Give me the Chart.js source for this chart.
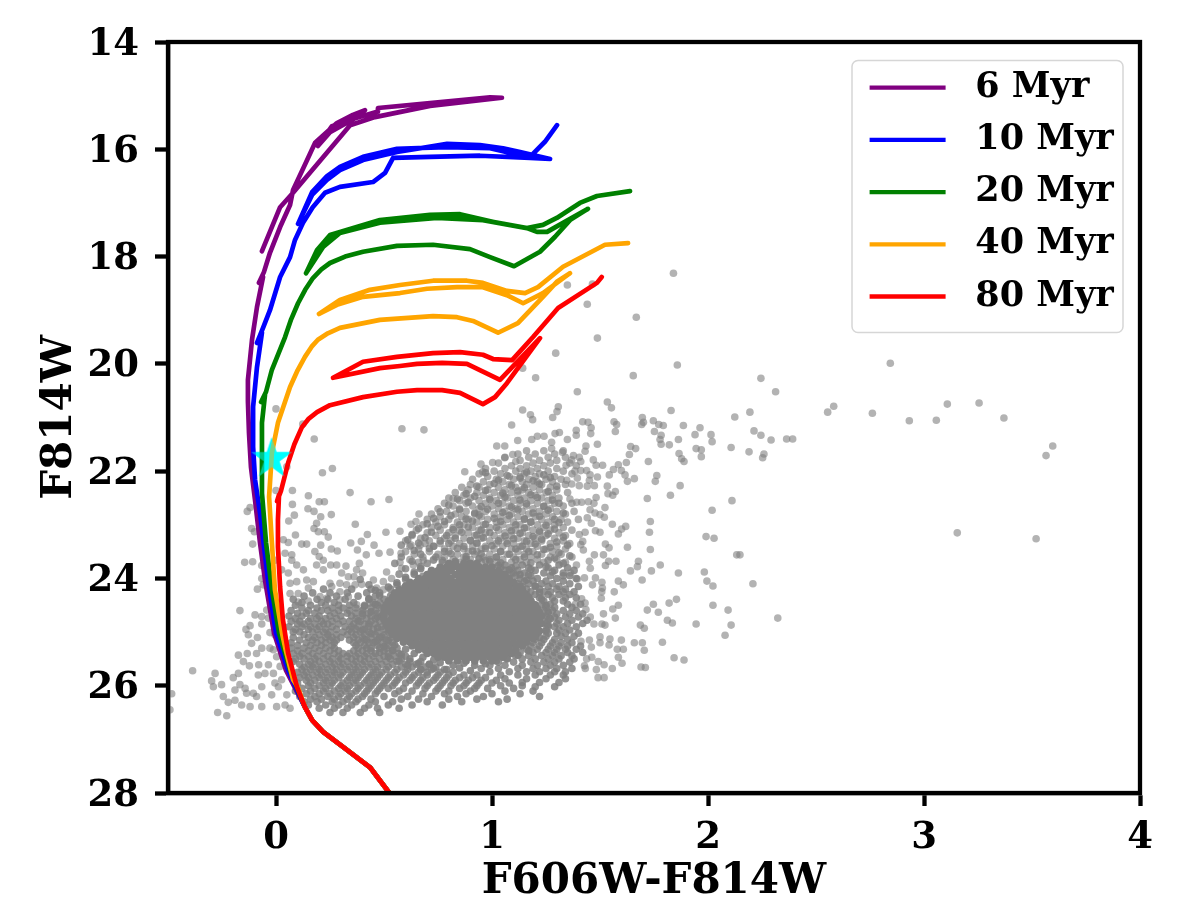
<!DOCTYPE html>
<html><head><meta charset="utf-8">
<style>html,body{margin:0;padding:0;background:#fff}canvas{display:block}</style>
<script src="https://cdn.jsdelivr.net/npm/chart.js@4/dist/chart.umd.min.js"></script>
</head><body><canvas id="c" width="1196" height="908"></canvas>
<script>
const xTicks=[0,1,2,3,4];
const yTicks=[14,16,18,20,22,24,26,28];
const ageLabels=['6 Myr','10 Myr','20 Myr','40 Myr','80 Myr'];
const ageColors=['purple','blue','green','orange','red'];
const sharedLower=[[.525,28],[.435,27.52],[.31,27.14],[.218,26.86],[.167,26.64],[.134,26.4]];
const iso6=[[.085,26.02],[.046,25.71],[-.009,25.02],[-.051,24.03],[-.074,23.34],[-.097,22.54],[-.116,21.92],[-.125,21.29],[-.13,20.7],[-.13,20.3],[-.111,19.55],[-.088,18.94],[-.06,18.38],[-.079,18.49],[-.056,18.29],[-.028,17.93],[.019,17.45],[.065,17.04],[.079,16.76],[.144,16.2],[.181,15.88],[.282,15.51],[.356,15.36],[.412,15.27],[.366,15.42],[.25,15.68],[.194,15.94],[.259,15.57],[.366,15.42],[.468,15.3],[.472,15.23],[.713,15.14],[.991,15.03],[1.046,15.04],[.713,15.19],[.458,15.4],[.343,15.55],[.079,16.81],[.019,17.08],[-.065,17.9]];
const iso10=[[.09,26.02],[.056,25.71],[0,25.02],[-.037,24.03],[-.074,22.78],[-.097,22.16],[-.106,21.55],[-.106,20.8],[-.088,20.06],[-.065,19.42],[-.088,19.61],[-.06,19.33],[-.028,19],[.019,18.38],[.065,18.01],[.088,17.69],[.125,17.37],[.17,17.08],[.227,16.81],[.296,16.7],[.449,16.61],[.505,16.44],[.542,16.16],[.713,16.14],[.944,16.12],[1.176,16.16],[1.269,16.18],[1.13,16.05],[1.051,15.98],[.944,15.92],[.792,15.9],[.56,16.05],[.403,16.2],[.296,16.39],[.236,16.57],[.167,16.85],[.102,17.39],[.167,16.8],[.236,16.5],[.296,16.33],[.403,16.14],[.56,15.99],[.792,15.96],[.991,15.98],[1.13,16.11],[1.176,16.14],[1.245,15.86],[1.301,15.55]];
const iso20=[[.095,26.02],[.065,25.71],[.014,25.02],[-.019,24.21],[-.046,23.34],[-.065,22.41],[-.065,21.1],[-.051,20.58],[-.069,20.71],[-.046,20.52],[-.019,20.11],[.042,19.5],[.07,19.17],[.102,18.87],[.135,18.62],[.171,18.4],[.21,18.24],[.25,18.12],[.32,18],[.403,17.91],[.56,17.8],[.727,17.78],[.898,17.86],[.991,18.01],[1.102,18.18],[1.222,17.91],[1.292,17.63],[1.361,17.32],[1.444,17.11],[1.255,17.54],[1.208,17.54],[1.162,17.47],[.958,17.32],[.745,17.28],[.481,17.37],[.296,17.56],[.218,17.82],[.139,18.31],[.19,17.88],[.25,17.6],[.481,17.32],[.713,17.22],[.852,17.21],[1.023,17.37],[1.162,17.47],[1.236,17.41],[1.3,17.28],[1.407,17],[1.486,16.87],[1.639,16.78]];
const iso40=[[.1,26.02],[.079,25.89],[.042,25.28],[.028,25.02],[-.005,24.21],[-.019,23.34],[-.032,22.48],[-.019,21.66],[.009,21.1],[.065,20.43],[.1,20.12],[.134,19.87],[.165,19.68],[.194,19.55],[.24,19.43],[.296,19.33],[.481,19.18],[.727,19.11],[.838,19.13],[.912,19.2],[1.028,19.42],[1.12,19.24],[1.236,18.75],[1.3,18.47],[1.361,18.31],[1.236,18.68],[1.144,18.87],[1.069,18.72],[.958,18.57],[.838,18.57],[.699,18.6],[.574,18.68],[.403,18.75],[.282,18.9],[.199,19.07],[.296,18.81],[.435,18.62],[.574,18.53],[.727,18.45],[.884,18.45],[.958,18.49],[1.069,18.64],[1.153,18.68],[1.213,18.57],[1.329,18.19],[1.523,17.78],[1.63,17.75]];
const iso80=[[.097,26.02],[.056,25.39],[.032,24.77],[.019,24.16],[.009,23.41],[.009,22.91],[.014,22.44],[.005,22.56],[.023,22.37],[.056,21.85],[.085,21.5],[.12,21.18],[.152,21.02],[.19,20.9],[.25,20.77],[.403,20.62],[.56,20.52],[.653,20.49],[.769,20.49],[.852,20.54],[.958,20.75],[1.014,20.62],[1.069,20.36],[1.222,19.52],[1.037,20.3],[.884,20],[.769,19.98],[.653,20],[.574,20.04],[.481,20.08],[.264,20.26],[.403,19.96],[.56,19.87],[.727,19.8],[.852,19.78],[.958,19.83],[1.005,19.91],[1.093,19.93],[1.19,19.5],[1.306,18.96],[1.486,18.49],[1.508,18.38]];
const clusterStar=[[-.02,21.77]];
const farStars=[[2.844,19.99],[2.245,20.27],[2.313,20.52],[2.194,20.9],[2.554,20.9],[2.582,20.79],[2.761,20.92],[2.932,21.06],[3.057,21.05],[3.108,20.75],[3.255,20.73],[3.37,21.01],[3.596,21.53],[3.565,21.71],[3.154,23.15],[3.519,23.26],[2.213,21.25],[2.245,21.33],[2.292,21.42],[2.364,21.4],[2.392,21.4],[2.19,21.64],[2.259,21.68],[2.253,21.75],[2.208,24.1],[2.323,24.74],[2.148,23.56],[2.124,20.99],[2.107,21.56],[2.111,22.55],[2.133,23.56],[2.093,24.59],[2.107,24.87],[2.079,25.06]];
const rightStars=[[1.84,18.31],[1.349,18.53],[1.465,18.51],[1.441,18.89],[1.668,19.13],[1.488,19.52],[1.295,19.8],[1.142,20.08],[1.202,20.26],[1.858,20.02],[1.654,20.22],[1.395,20.52],[1.534,20.71],[1.553,20.82],[1.307,20.8],[1.301,20.89],[1.281,21],[1.142,20.86],[1.178,20.95],[1.188,21.04],[1.091,21.14],[1.829,20.87],[1.565,21.08],[1.577,21.13],[1.571,21.26],[1.696,21],[1.701,21.09],[1.693,21.13],[1.747,21.06],[1.772,21.13],[1.793,21.15],[1.886,21.15],[1.963,21.19],[1.94,21.32],[2.014,21.32],[2.019,21.45],[1.752,21.26],[1.783,21.33],[1.778,21.41],[1.783,21.5],[1.821,21.51],[1.863,21.41],[1.42,21.08],[1.445,21.09],[1.459,21.19],[1.39,21.24],[1.457,21.3],[1.39,21.33],[1.349,21.41],[1.312,21.28],[1.292,21.3],[1.21,21.35],[1.241,21.35],[1.184,21.41],[1.119,21.43],[1.276,21.46],[1.276,21.58],[1.022,21.53],[1.059,21.53],[1.096,21.69],[1.059,21.75],[1.11,21.82],[1.326,21.65],[1.488,21.5],[1.435,21.53],[1.431,21.63],[1.642,21.54],[1.665,21.58],[1.636,21.69],[1.622,21.84],[1.945,21.58],[1.969,21.6],[1.969,21.73],[1.866,21.67],[1.878,21.77],[1.889,21.82],[1.724,21.82],[1.763,22.08],[1.756,22.19],[1.871,22.27],[1.826,22.45],[1.719,22.51],[2.019,22.73],[1.377,21.71],[1.404,21.74],[1.411,21.82],[1.469,21.79],[1.482,21.89],[1.512,21.89],[1.343,21.89],[1.369,21.79],[1.585,21.88],[1.562,21.97],[1.543,22.07],[1.599,21.99],[1.616,22.07],[1.627,22.19],[1.659,22.14],[1.384,22],[1.411,21.99],[1.438,21.99],[1.454,22.07],[1.488,22.11],[1.395,22.13],[1.346,22.17],[1.369,22.24],[1.404,22.27],[1.441,22.28],[1.474,22.27],[1.451,22.17],[1.534,22.28],[1.571,22.38],[1.537,22.42],[1.559,22.45],[1.482,22.49],[1.472,22.6],[1.446,22.57],[1.415,22.58],[1.392,22.58],[1.361,22.52],[1.523,22.68],[1.454,22.72],[1.477,22.78],[1.5,22.81],[1.52,22.86],[1.441,22.87],[1.46,22.97],[1.557,22.99],[1.619,23.03],[1.6,23.08],[1.585,23.17],[1.479,23.11],[1.5,23.14],[1.431,23.14],[1.404,23.18],[1.42,23.31],[1.411,23.37],[1.423,23.47],[1.525,23.36],[1.542,23.43],[1.627,23.42],[1.733,22.94],[1.729,23.14],[1.733,23.46],[1.991,23.22],[2.028,23.25],[1.474,23.56],[1.516,23.56],[1.54,23.68],[1.574,23.68],[1.451,23.68],[1.391,23.75],[1.455,23.81],[1.525,23.76],[1.678,23.68],[1.673,23.78],[1.779,23.75],[1.641,23.86],[1.738,23.86],[1.863,23.9],[1.983,23.88],[1.364,23.9],[1.395,24.01],[1.428,23.99],[1.479,23.99],[1.695,24.03],[1.585,24.05],[1.608,24.12],[1.995,24.05],[2.023,24.14],[1.465,24.12],[1.509,24.07],[1.511,24.18],[1.508,24.25],[1.566,24.25],[1.506,24.37],[1.415,24.38],[1.431,24.46],[1.386,24.48],[1.435,24.58],[1.559,24.57],[1.585,24.5],[1.516,24.66],[1.571,24.74],[1.747,24.48],[1.719,24.59],[1.77,24.63],[1.82,24.46],[1.854,24.39],[2.023,24.5],[1.812,24.78],[1.835,24.83],[1.945,24.85],[1.455,24.72],[1.472,24.85],[1.509,24.85],[1.523,24.87],[1.687,24.87],[1.705,24.93],[1.789,25.19],[1.659,25.2],[1.696,25.2],[1.705,25.34],[1.843,25.48],[1.889,25.52],[1.69,25.65],[1.71,25.66],[1.599,25.15],[1.546,25.13],[1.5,25.09],[1.451,25.15],[1.412,25.17],[1.46,25.28],[1.5,25.2],[1.542,25.24],[1.58,25.32],[1.608,25.32],[1.585,25.47],[1.602,25.58],[1.557,25.68],[1.519,25.61],[1.492,25.55],[1.462,25.47],[1.438,25.5],[1.428,25.63],[1.483,25.7],[1.519,25.85],[1.491,25.85],[1.432,25.68]];
const leftStars=[[0,20.84],[.124,21.12],[.177,21.4],[.583,21.21],[.685,21.23],[.215,22.03],[.261,21.95],[.05,21.92],[.076,22.36],[0,22.36],[.15,22.46],[.2,22.57],[.224,22.57],[.076,22.62],[.343,22.4],[.44,22.57],[.523,22.53],[.82,22.51],[.874,22.01],[.949,21.87],[.957,22.01],[1.003,21.84],[-.133,22.75],[-.12,22.68],[.085,22.82],[.148,22.7],[.176,22.75],[.207,22.85],[.256,22.81],[.059,22.93],[-.113,23.07],[-.1,23.13],[-.108,23.36],[-.145,23.7],[-.108,23.69],[-.066,23.76],[.188,22.97],[.176,23.07],[.196,23.13],[.224,23.13],[.242,23.23],[.367,22.99],[.423,23.18],[.509,23.14],[.574,23.12],[.662,22.8],[.648,22.94],[.625,22.99],[.09,23.19],[.034,23.28],[.057,23.33],[.119,23.36],[.142,23.36],[.207,23.38],[.256,23.45],[.284,23.49],[.346,23.34],[.395,23.31],[.454,23.38],[.377,23.47],[.418,23.56],[.477,23.53],[.528,23.51],[.579,23.53],[.625,23.38],[.667,23.38],[.073,23.56],[.042,23.53],[.073,23.66],[.096,23.75],[.18,23.5],[.2,23.59],[.219,23.66],[.188,23.75],[.219,23.84],[.253,23.75],[.281,23.75],[.324,23.77],[.386,23.72],[.373,23.84],[.304,23.9],[.335,23.97],[.361,23.97],[.401,23.9],[.512,23.88],[.574,23.7],[.582,23.81],[.636,23.75],[.682,23.66],[.728,23.66],[-.005,23.66],[.026,23.84],[.057,23.9],[.127,23.84],[-.066,24],[-.086,24.2],[-.059,24.12],[-.035,24.06],[.065,24.09],[.096,24.06],[.142,24.03],[.173,24.06],[.15,24.18],[.25,24.09],[.258,24.15],[.296,24.09],[.327,24.12],[.366,24.12],[.397,24.11],[.451,24.03],[.497,24.06],[.535,24],[.466,24.18],[.497,24.21],[.296,24.25],[.204,24.34],[.235,24.37],[.103,24.28],[.065,24.28],[.15,24.42],[.103,24.44],[.296,24.4],[.335,24.34],[.374,24.49],[.404,24.59],[.435,24.46],[-.167,24.6],[-.097,24.68],[-.066,24.71],[-.043,24.59],[-.12,24.88],[-.139,24.95],[-.066,24.85],[-.128,25.05],[-.035,24.74],[-.028,25.01],[-.005,25.05],[-.113,25.21],[-.086,25.1],[-.066,25.3],[-.09,25.4],[-.133,25.4],[-.174,25.43],[-.151,25.55],[-.123,25.63],[-.08,25.61],[-.028,25.3],[-.012,25.33],[-.035,25.61],[.003,25.46],[.019,25.64],[-.051,25.77],[-.082,25.8],[-.012,25.77],[-.386,25.72],[-.282,25.77],[-.298,25.91],[-.29,26.02],[-.252,25.98],[-.198,25.85],[-.174,25.77],[-.167,25.98],[-.143,26.05],[-.19,26.08],[-.136,26.14],[-.105,26.14],[-.244,26.2],[-.19,26.27],[-.221,26.31],[-.159,26.36],[-.12,26.39],[-.09,26.2],[-.066,26.02],[-.066,26.39],[.003,26.39],[-.02,26.17],[.011,26.02],[.042,26.36],[.065,26.42],[-.483,26.15],[-.491,26.45],[-.27,26.5],[-.228,26.56],[.05,26.17],[.026,25.89],[-.005,25.95]];
const plumeExtra=[[.97,22.03],[1.07,22.08],[1.16,22.02],[1.24,22.07],[1.03,22.17],[1.13,22.13],[1.19,22.18],[1.27,22.12],[.93,22.28],[1.01,22.23],[1.09,22.27],[1.15,22.31],[1.22,22.24],[1.3,22.28],[.88,22.42],[.97,22.36],[1.05,22.41],[1.12,22.37],[1.18,22.44],[1.26,22.38],[.84,22.52],[.92,22.47],[.99,22.53],[1.06,22.48],[1.13,22.54],[1.21,22.49],[1.28,22.54],[.8,22.63],[.89,22.58],[.95,22.66],[1.03,22.6],[1.09,22.67],[1.16,22.61],[1.24,22.66],[1.31,22.6],[.76,22.76],[.85,22.72],[.92,22.78],[.98,22.71],[1.05,22.77],[1.12,22.72],[1.19,22.78],[1.26,22.73],[1.33,22.78],[.73,22.88],[.81,22.83],[.88,22.89],[.94,22.82],[1.01,22.88],[1.08,22.83],[1.15,22.89],[1.22,22.84],[1.29,22.9],[.7,22.98],[.78,22.94],[.85,23],[.91,22.93],[.97,22.99],[1.04,22.94],[1.11,23],[1.18,22.95],[1.25,23.01],[1.31,22.96],[.66,23.07],[.75,23.03],[.82,23.09],[.89,23.04],[.95,23.1],[1.02,23.05],[1.09,23.11],[1.15,23.06],[1.22,23.12],[1.29,23.08],[.63,23.18],[.72,23.14],[.79,23.2],[.86,23.14],[.93,23.19],[.99,23.15],[1.06,23.21],[1.13,23.16],[1.19,23.22],[1.26,23.17],[1.33,23.23],[.61,23.28],[.69,23.24],[.76,23.3],[.83,23.25],[.9,23.29],[.96,23.24],[1.03,23.3],[1.1,23.26],[1.16,23.31],[1.23,23.27],[1.3,23.32],[.58,23.38],[.66,23.34],[.73,23.4],[.8,23.35],[.87,23.4],[.93,23.34],[1,23.39],[1.07,23.35],[1.14,23.4],[1.2,23.36],[1.27,23.42],[1.35,23.38],[.64,23.48],[.71,23.44],[.78,23.5],[.84,23.44],[.91,23.49],[.97,23.44],[1.04,23.5],[1.11,23.45],[1.17,23.5],[1.24,23.46],[1.31,23.52],[.58,23.6],[.67,23.55],[.74,23.6],[.81,23.54],[.88,23.59],[.95,23.54],[1.02,23.6],[1.08,23.55],[1.15,23.6],[1.21,23.56],[1.29,23.62],[1.36,23.58],[.55,23.72],[.63,23.68],[.7,23.72],[.77,23.66],[.97,23.66],[1.04,23.71],[1.11,23.65],[1.18,23.71],[1.26,23.66],[1.33,23.72],[.6,23.82],[.67,23.78],[.72,23.85],[1.04,23.8],[1.11,23.77],[1.18,23.83],[1.25,23.78],[.57,23.92],[.64,23.88],[.68,23.96],[1.1,23.9],[1.17,23.93],[1.28,23.88],[1.33,23.95]];
const coreEdge=[[.46,24.22],[.52,24.16],[.56,24.08],[.6,23.98],[.64,23.92],[.67,23.82],[.43,24.38],[.48,24.32],[.41,24.52],[.46,24.48],[.4,24.66],[.44,24.62],[.47,24.72],[.38,24.79],[.43,24.85],[.47,24.92],[.4,24.96],[.44,25.03],[.49,25.09],[.41,25.14],[.46,25.18],[.52,25.16],[.44,25.3],[.5,25.27],[.55,25.24],[.48,25.38],[.54,25.34],[.6,25.32],[.52,25.46],[.58,25.42],[.64,25.4],[.57,25.54],[.62,25.5],[.68,25.47],[.73,25.52],[.61,25.62],[.66,25.58],[.71,25.6],[.76,25.57],[.82,25.62],[.87,25.58],[.92,25.62],[.97,25.59],[1.02,25.54],[1.07,25.49],[1.12,25.43],[1.17,25.35],[.67,25.7],[.73,25.68],[.79,25.7],[.85,25.67],[.9,25.72],[1.22,25.1],[1.25,24.98],[1.26,24.87],[1.27,24.75],[1.26,24.62],[1.25,24.5],[1.23,24.38],[1.22,24.26],[1.2,24.14],[1.16,24.03],[1.13,23.93],[1.08,23.84],[1.03,23.76],[.76,24.03],[.99,23.68],[.94,23.63],[.88,23.64],[.83,23.68]];
const plumeRows=[[21.62,[1.16,1.24,1.33]],[21.68,[1.12,1.2,1.29]],[21.74,[1.06,1.17,1.26,1.34]],[21.8,[1.13,1.22,1.3]],[21.85,[1.03,1.19,1.27,1.36]],[21.9,[1.09,1.16,1.24,1.39]],[21.95,[.97,1.06,1.13,1.21,1.3]],[22,[1.01,1.11,1.18,1.26,1.33]],[22.05,[.94,1.04,1.15,1.22,1.37]],[22.1,[.98,1.08,1.13,1.2,1.29]],[22.15,[.91,1.02,1.1,1.17,1.25,1.32]],[22.2,[.96,1.05,1.14,1.21,1.28]],[22.25,[.9,.99,1.08,1.16,1.23,1.34]],[22.3,[.86,.94,1.03,1.11,1.19,1.27]],[22.35,[.89,.98,1.06,1.14,1.22,1.3]],[22.4,[.83,.93,1.01,1.09,1.17,1.25,1.35]],[22.45,[.87,.96,1.04,1.12,1.2,1.28]],[22.5,[.8,.9,.99,1.07,1.15,1.23,1.31]],[22.55,[.85,.94,1.02,1.1,1.18,1.26]],[22.6,[.78,.88,.97,1.05,1.13,1.21,1.29,1.37]],[22.65,[.82,.91,1,1.08,1.16,1.24,1.33]],[22.7,[.75,.85,.94,1.03,1.11,1.19,1.27]],[22.75,[.79,.88,.97,1.06,1.14,1.22,1.3,1.38]],[22.8,[.72,.83,.92,1.01,1.09,1.17,1.25,1.34]],[22.85,[.76,.86,.95,1.04,1.12,1.2,1.28]],[22.9,[.7,.8,.89,.98,1.07,1.15,1.23,1.32,1.4]],[22.95,[.74,.84,.93,1.02,1.1,1.18,1.26,1.35]],[23,[.68,.78,.87,.96,1.05,1.13,1.21,1.29]],[23.05,[.72,.82,.91,.99,1.08,1.16,1.24,1.33]],[23.1,[.65,.76,.85,.94,1.03,1.11,1.19,1.27,1.37]],[23.15,[.7,.8,.89,.97,1.06,1.14,1.22,1.31]],[23.2,[.63,.74,.83,.92,1.01,1.09,1.17,1.25,1.34]],[23.25,[.67,.78,.87,.95,1.04,1.12,1.2,1.29]],[23.3,[.6,.71,.81,.9,.99,1.07,1.15,1.23,1.33]],[23.35,[.69,.76,.85,.93,1.02,1.1,1.18,1.27,1.36]],[23.4,[.62,.73,.82,.91,.97,1.05,1.13,1.21,1.3]],[23.45,[.66,.78,.87,.95,1.01,1.09,1.16,1.25,1.34]],[23.5,[.6,.71,.8,.89,.93,1.04,1.12,1.19,1.28]],[23.55,[.64,.75,.84,.92,.99,1.07,1.15,1.23,1.32]],[23.6,[.68,.78,.87,.96,1.02,1.1,1.18,1.27,1.37]],[23.65,[.62,.73,.82,.9,.99,1.05,1.13,1.21,1.3]],[23.7,[.66,.77,.85,.95,1.02,1.09,1.16,1.24,1.34]]];
const blobRows=[[24.02,[.39,.6]],[24.12,[.43,.56,.64]],[24.2,[.22,.35,.44,.53,.58,.66]],[24.27,[.17,.25,.33,.42,.48,.55,.62]],[24.33,[.13,.28,.38,.46,.53,.59]],[24.39,[.08,.19,.24,.32,.43,.5,.57]],[24.45,[.12,.21,.27,.36,.45,.48,.53]],[24.5,[.09,.16,.23,.29,.34,.41,.47,.51,.55]],[24.55,[.12,.19,.26,.31,.37,.44,.49,.53]],[24.6,[.07,.15,.21,.24,.29,.34,.4,.46,.51]],[24.65,[.1,.14,.18,.27,.33,.37,.43,.47,.52]],[24.7,[.06,.12,.2,.25,.3,.35,.4,.44,.49]],[24.75,[.09,.16,.19,.23,.28,.37,.42,.46,.5]],[24.8,[.07,.11,.15,.21,.26,.31,.34,.39,.44,.48]],[24.85,[.1,.13,.18,.22,.24,.29,.36,.41,.46,.51]],[24.9,[.06,.12,.16,.2,.26,.32,.35,.38,.43,.49]],[24.95,[.09,.15,.19,.23,.28,.34,.37,.41,.45,.5]],[25,[.08,.11,.17,.22,.25,.31,.35,.39,.43,.47,.52]],[25.05,[.13,.2,.24,.28,.33,.37,.41,.46,.5]],[25.1,[.08,.15,.18,.23,.26,.3,.36,.4,.44,.48,.53]],[25.15,[.11,.17,.21,.25,.28,.34,.38,.42,.47,.51]],[25.2,[.07,.14,.19,.23,.27,.36,.39,.43,.45,.49,.54]],[25.25,[.1,.16,.21,.26,.37,.41,.47,.52]],[25.3,[.07,.13,.18,.23,.27,.38,.42,.48,.51,.56]],[25.35,[.1,.15,.2,.25,.29,.36,.4,.44,.5,.54]],[25.4,[.08,.12,.17,.22,.27,.31,.34,.38,.42,.46,.52,.57]],[25.45,[.11,.15,.19,.24,.29,.33,.37,.41,.45,.5,.55,.6]],[25.5,[.09,.13,.18,.22,.26,.3,.35,.39,.43,.48,.53,.58]],[25.55,[.08,.16,.2,.25,.29,.33,.37,.41,.46,.51,.56,.62,.67]],[25.6,[.11,.15,.18,.23,.27,.31,.36,.4,.44,.49,.54,.6,.65,.71]],[25.65,[.13,.17,.21,.26,.3,.34,.38,.43,.47,.52,.58,.63,.69,.74]],[25.7,[.12,.16,.2,.24,.28,.33,.37,.41,.46,.51,.56,.61,.67,.72,.78]],[25.75,[.1,.14,.19,.23,.27,.31,.36,.4,.45,.49,.55,.6,.66,.7,.76,.82]],[25.8,[.13,.17,.21,.26,.3,.35,.39,.44,.48,.53,.59,.64,.7,.75,.8,.87,.93]],[25.85,[.11,.15,.2,.24,.29,.34,.38,.43,.47,.52,.57,.63,.68,.74,.79,.85,.91,.97]],[25.9,[.14,.18,.23,.27,.33,.37,.42,.46,.51,.56,.62,.67,.73,.78,.83,.89,.95,1.02]],[25.95,[.1,.16,.22,.26,.31,.36,.41,.45,.5,.55,.6,.66,.71,.77,.82,.88,.94,1,1.08]],[26,[.15,.2,.25,.3,.34,.39,.44,.49,.54,.65,.7,.76,.81,.87,.93,1.04,1.14]],[26.05,[.12,.18,.23,.29,.33,.38,.43,.48,.52,.59,.69,.75,.85,.92,.98,1.1]],[26.1,[.09,.16,.22,.27,.32,.37,.42,.47,.57,.63,.74,.8,.9,1.06,1.19]],[26.15,[.14,.2,.25,.3,.35,.41,.46,.55,.68,.78,.88,1,1.13]],[26.2,[.11,.18,.24,.29,.34,.4,.5,.61,.72,.84,.96,1.22]],[26.25,[.16,.21,.27,.33,.38,.44,.58,.66,.8,.93,1.07]],[26.3,[.13,.19,.26,.31,.37,.46,.54,.7,.86,1.03]],[26.36,[.15,.23,.29,.35,.43,.52,.63,.77]],[26.42,[.2,.27,.33,.41,.47,.57]],[26.5,[.25,.31,.39,.48]]];
const flankRows=[[23.75,[1.06,1.14,1.22,1.31]],[23.8,[1.09,1.17,1.26,1.35]],[23.85,[1.06,1.12,1.2,1.29,1.38]],[23.9,[1.09,1.15,1.24,1.33]],[23.95,[1.11,1.18,1.27,1.36]],[24,[1.13,1.21,1.3,1.39]],[24.05,[1.15,1.19,1.25,1.33]],[24.1,[1.12,1.17,1.23,1.28,1.36]],[24.15,[1.14,1.2,1.26,1.31,1.4]],[24.2,[1.16,1.22,1.3,1.34]],[24.25,[1.18,1.24,1.27,1.33,1.38]],[24.3,[1.16,1.2,1.26,1.31,1.36]],[24.36,[1.17,1.22,1.28,1.34,1.39]],[24.42,[1.18,1.24,1.29,1.33]],[24.48,[1.19,1.23,1.27,1.35,1.41]],[24.54,[1.2,1.25,1.29,1.37]],[24.6,[1.2,1.24,1.28,1.33,1.39]],[24.66,[1.21,1.26,1.3,1.36,1.42]],[24.72,[1.21,1.25,1.29,1.34,1.4]],[24.78,[1.21,1.26,1.31,1.37,1.44]],[24.84,[1.21,1.25,1.3,1.35,1.42]],[24.9,[1.21,1.26,1.29,1.33,1.39]],[24.96,[1.21,1.25,1.31,1.36]],[25.02,[1.21,1.26,1.3,1.34,1.4]],[25.08,[1.2,1.25,1.32,1.38]],[25.14,[1.2,1.24,1.29,1.35]],[25.2,[1.19,1.23,1.28,1.32,1.37]],[25.26,[1.18,1.22,1.27,1.31,1.35,1.41]],[25.32,[1.16,1.21,1.26,1.3,1.34,1.39]],[25.38,[1.13,1.19,1.25,1.29,1.35,1.42]],[25.44,[1.11,1.17,1.23,1.28,1.32,1.37]],[25.5,[1.07,1.14,1.2,1.26,1.31,1.38]],[25.56,[1.03,1.1,1.18,1.24,1.29,1.36]],[25.62,[.99,1.06,1.14,1.21,1.27,1.33]],[25.68,[.95,1.03,1.12,1.19,1.25,1.3,1.37]],[25.74,[.99,1.08,1.16,1.22,1.29,1.34]],[25.8,[1.04,1.12,1.2,1.27,1.33]],[25.87,[1.06,1.16,1.25,1.34]],[25.94,[1.14,1.22,1.31]],[26.02,[1.2,1.29]]];
const coreRows=[[23.72,[.8,.83,.87,.9,.93]],[23.79,[.76,.79,.82,.85,.88,.91,.94,.97,1]],[23.86,[.72,.75,.78,.81,.85,.88,.91,.94,.97,1,1.03]],[23.93,[.7,.73,.76,.79,.83,.86,.89,.92,.95,.98,1.01,1.04,1.06]],[24,[.66,.69,.72,.75,.78,.81,.85,.88,.91,.94,.97,1,1.03,1.06,1.08]],[24.07,[.62,.65,.68,.71,.74,.77,.8,.83,.86,.89,.92,.95,.98,1.01,1.04,1.07,1.1]],[24.14,[.6,.63,.66,.69,.72,.75,.78,.81,.84,.87,.9,.93,.96,.99,1.02,1.05,1.08,1.11,1.13]],[24.21,[.57,.6,.63,.66,.69,.72,.75,.78,.81,.84,.87,.9,.93,.96,.99,1.02,1.05,1.08,1.11,1.14]],[24.28,[.55,.58,.61,.64,.67,.7,.73,.76,.79,.82,.85,.88,.91,.94,.97,1,1.03,1.06,1.09,1.12,1.15]],[24.35,[.54,.57,.6,.63,.66,.69,.72,.75,.78,.81,.84,.87,.9,.93,.96,.99,1.02,1.05,1.08,1.11,1.14,1.17]],[24.42,[.52,.55,.58,.61,.64,.67,.7,.73,.76,.79,.82,.85,.88,.91,.94,.97,1,1.03,1.06,1.09,1.12,1.15,1.18]],[24.49,[.51,.54,.57,.6,.63,.66,.69,.72,.75,.78,.81,.84,.87,.9,.93,.96,.99,1.02,1.05,1.08,1.11,1.14,1.17,1.2]],[24.56,[.5,.53,.56,.59,.62,.65,.68,.71,.74,.77,.8,.83,.86,.89,.92,.95,.98,1.01,1.04,1.07,1.1,1.13,1.16,1.19,1.21]],[24.63,[.5,.53,.56,.59,.62,.65,.68,.71,.74,.77,.8,.83,.86,.89,.92,.95,.98,1.01,1.04,1.07,1.1,1.13,1.16,1.19,1.22]],[24.7,[.5,.54,.57,.6,.63,.66,.69,.72,.75,.78,.81,.84,.87,.9,.93,.96,.99,1.02,1.05,1.08,1.11,1.14,1.17,1.2,1.23]],[24.77,[.5,.53,.56,.59,.62,.65,.68,.71,.74,.77,.8,.83,.86,.89,.92,.95,.98,1.01,1.04,1.07,1.1,1.13,1.16,1.19,1.22]],[24.84,[.51,.54,.57,.6,.63,.66,.69,.72,.75,.78,.81,.84,.87,.9,.93,.96,.99,1.02,1.05,1.08,1.11,1.14,1.17,1.2,1.23]],[24.91,[.52,.55,.58,.61,.64,.67,.7,.73,.76,.79,.82,.85,.88,.91,.94,.97,1,1.03,1.06,1.09,1.12,1.15,1.18,1.21]],[24.98,[.53,.56,.59,.62,.65,.68,.71,.74,.77,.8,.83,.86,.89,.92,.95,.98,1.01,1.04,1.07,1.1,1.13,1.16,1.19,1.22]],[25.05,[.54,.57,.6,.63,.66,.69,.72,.75,.78,.81,.84,.87,.9,.93,.96,.99,1.02,1.05,1.08,1.11,1.14,1.17,1.2]],[25.12,[.56,.59,.62,.65,.68,.71,.74,.77,.8,.83,.86,.89,.92,.95,.98,1.01,1.04,1.07,1.1,1.13,1.16,1.19]],[25.19,[.59,.62,.65,.68,.71,.74,.77,.8,.83,.86,.89,.92,.95,.98,1.01,1.04,1.07,1.1,1.13,1.16]],[25.26,[.63,.66,.69,.72,.75,.78,.81,.84,.87,.9,.93,.96,.99,1.02,1.05,1.08,1.11,1.14]],[25.33,[.66,.69,.72,.75,.78,.81,.84,.87,.9,.93,.96,.99,1.02,1.05,1.08,1.11]],[25.4,[.7,.73,.76,.79,.82,.85,.88,.91,.94,.97,1,1.03,1.06,1.09]],[25.47,[.75,.78,.81,.84,.87,.9,.93,.96,.99,1.02,1.05]],[25.54,[.8,.84,.88,.92,.96,1]]];

function expand(rows){const out=[];rows.forEach(r=>r[1].forEach(x=>out.push({x:x,y:r[0]})));return out;}
function pts(a){return a.map(p=>({x:p[0],y:p[1]}));}
function makeStar(alpha){const cv=document.createElement('canvas');cv.width=46;cv.height=46;const g=cv.getContext('2d');g.fillStyle='rgba(0,255,255,'+alpha+')';g.beginPath();
for(let i=0;i<10;i++){const r=i%2?8.2:21.5,a=-Math.PI/2+i*Math.PI/5;const px=23+r*Math.cos(a),py=23+r*Math.sin(a);i?g.lineTo(px,py):g.moveTo(px,py);}
g.closePath();g.fill();return cv;}

const lineSets=[iso6,iso10,iso20,iso40,iso80].map((iso,i)=>({label:ageLabels[i],data:pts(sharedLower.concat(iso)),showLine:true,borderColor:ageColors[i],backgroundColor:ageColors[i],borderWidth:4.7,pointRadius:0,borderJoinStyle:'round',borderCapStyle:'round',tension:0,order:5-i}));
function dots(name,data,alpha,ord){return {label:name,data:data,showLine:false,pointRadius:3.8,pointHoverRadius:3.8,pointBorderWidth:0,backgroundColor:'rgba(128,128,128,'+alpha+')',borderColor:'rgba(128,128,128,'+alpha+')',order:ord};}
const datasets=lineSets.concat([
 {label:'cluster top',data:pts(clusterStar),showLine:false,pointStyle:makeStar(.55),pointRadius:10,order:0},
 {label:'cluster base',data:pts(clusterStar),showLine:false,pointStyle:makeStar(1),pointRadius:10,order:7},
 dots('far',pts(farStars),.6,10),dots('right',pts(rightStars),.6,10),dots('left',pts(leftStars),.6,10),
 dots('plume',expand(plumeRows),.65,9),dots('plume2',pts(plumeExtra),.8,9),dots('blob',expand(blobRows),.85,9),dots('flank',expand(flankRows),.85,9),
 dots('coreEdge',pts(coreEdge),.9,9),dots('core',expand(coreRows),1,8)]);

const fnt=(s)=>({family:'"DejaVu Serif"',weight:'bold',size:s});
const framePlugin={id:'frame',
 afterLayout(chart){const l=chart.legend;l.left=852.4;l.top=53;l.right=1123;l.bottom=400;},
 afterDraw(chart){const c=chart.ctx,a=chart.chartArea;c.save();
  c.strokeStyle='#d6d6d6';c.lineWidth=1.5;c.beginPath();c.roundRect(852,60.5,271,272,6);c.stroke();
  c.strokeStyle='#000';c.lineWidth=4.3;c.strokeRect(a.left,a.top,a.right-a.left,a.bottom-a.top);c.restore();}};
new Chart(document.getElementById('c'),{type:'scatter',data:{datasets:datasets},plugins:[framePlugin],
 options:{responsive:false,animation:false,events:[],
  layout:{padding:{left:0,top:42,right:56,bottom:0}},
  plugins:{tooltip:{enabled:false},title:{display:false},
   legend:{display:true,position:'chartArea',align:'start',
    labels:{usePointStyle:true,pointStyle:'line',pointStyleWidth:76,boxHeight:4,padding:17.2,color:'#000',font:fnt(35),
     filter:(it)=>ageLabels.includes(it.text.trim()),
     generateLabels(chart){return chart.data.datasets.map((d,i)=>({text:ageLabels.includes(d.label)?' '+d.label:d.label,strokeStyle:d.borderColor,fillStyle:d.borderColor,lineWidth:4.3,pointStyle:'line',datasetIndex:i,fontColor:'#000'}));}}}},
  scales:{
   x:{type:'linear',min:-.5,max:4,afterBuildTicks(s){s.ticks=xTicks.map(v=>({value:v}));},afterFit(s){s.height=115;},
    grid:{drawOnChartArea:false,drawTicks:true,tickLength:13,tickWidth:4.3,tickColor:'#000'},border:{display:true,color:'#000',width:4.3},
    ticks:{color:'#000',font:fnt(37),padding:10,autoSkip:false,maxRotation:0,callback:v=>String(v)},
    title:{display:true,text:'F606W-F814W',color:'#000',font:fnt(42),padding:{top:0,bottom:1}}},
   y:{type:'linear',reverse:true,min:14,max:28,afterBuildTicks(s){s.ticks=yTicks.map(v=>({value:v}));},afterFit(s){s.width=168;},
    grid:{drawOnChartArea:false,drawTicks:true,tickLength:13,tickWidth:4.3,tickColor:'#000'},border:{display:true,color:'#000',width:4.3},
    ticks:{color:'#000',font:fnt(37),padding:16,labelOffset:3,autoSkip:false,callback:v=>String(v)},
    title:{display:true,text:'F814W',color:'#000',font:fnt(42),padding:{top:35,bottom:0}}}
  }}});
</script></body></html>
